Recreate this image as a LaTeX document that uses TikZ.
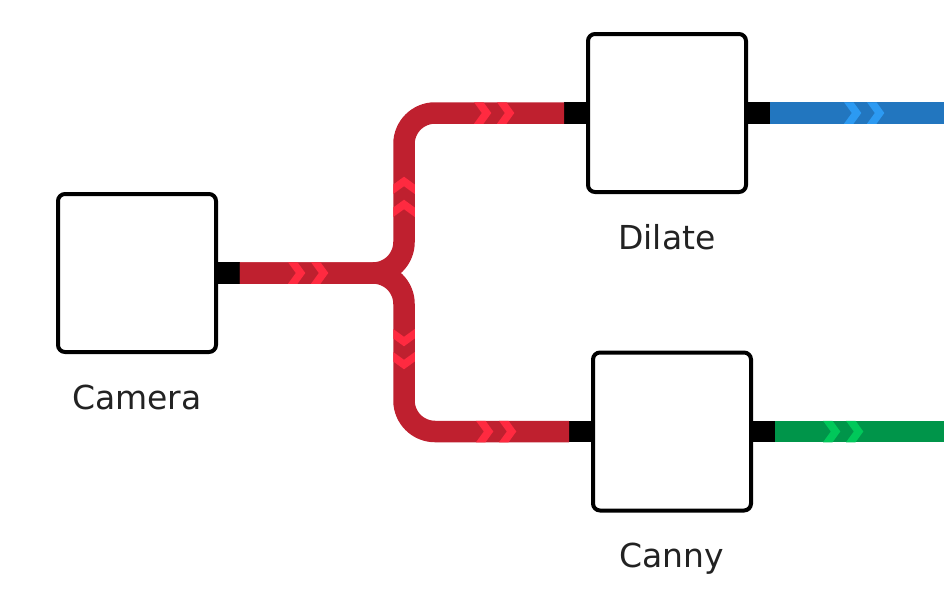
\documentclass[tikz,border=0pt]{standalone}
\usepackage{fontspec}
\setmainfont{DejaVu Sans}
\usetikzlibrary{positioning}

\definecolor{wirered}{HTML}{BF202F}
\definecolor{chevred}{HTML}{FF2A40}
\definecolor{wireblue}{HTML}{2276BF}
\definecolor{chevblue}{HTML}{2C9AF2}
\definecolor{wiregreen}{HTML}{00954A}
\definecolor{chevgreen}{HTML}{00C85A}
\definecolor{labelgray}{HTML}{222222}

\tikzset{
  block/.style={draw=black, fill=white, line width=4pt, rounded corners=7pt, minimum size=158pt, inner sep=0pt},
  port/.style={fill=black, minimum width=23pt, minimum height=21.5pt, inner sep=0pt},
  blocklabel/.style={anchor=base, text=labelgray, font=\fontsize{33}{40}\selectfont},
  wire/.style={line width=21.5pt},
  pics/chevpair/.style={code={
    \foreach \s in {0,23}
      \fill[#1] (\s,10.75) -- ++(9.5,0) -- ++(7.8,-10.75) -- ++(-7.8,-10.75) -- ++(-9.5,0) -- ++(7.8,10.75) -- cycle;
  }}
}

\begin{document}
\begin{tikzpicture}[x=1pt, y=-1pt]
    \useasboundingbox (0,0) rectangle (944,597);

    % Blocks
    \node[block] (camera) at (137,273) {};
    \node[block] (dilate) at (667,113) {};
    \node[block] (canny) at (672,431.5) {};

    % Block labels
    \node[blocklabel] (cameratext) at ([yshift=-55pt]camera.south) {Camera};
    \node[blocklabel] (dilatetext) at ([yshift=-55pt]dilate.south) {Dilate};
    \node[blocklabel] (cannytext) at ([yshift=-55pt]canny.south) {Canny};

    % Ports
    \node[port, right=-1.5pt of camera] (camout) {};
    \node[port, left=-1.5pt of dilate] (dilin) {};
    \node[port, right=-1.5pt of dilate] (dilout) {};
    \node[port, left=-1.5pt of canny] (canin) {};
    \node[port, right=-1.5pt of canny] (canout) {};

    % Wires
    \coordinate (split) at (404,273);
    \coordinate (blueend) at (944,113);
    \coordinate (greenend) at (944,431.5);
    \draw[wire, wirered, rounded corners=31pt] (camout.east) -- (split) |- (dilin.west);
    \draw[wire, wirered, rounded corners=31pt] (camout.east) -- (split) |- (canin.west);
    \draw[wire, wireblue] (dilout.east) -- (blueend);
    \draw[wire, wiregreen] (canout.east) -- (greenend);

    % Flow chevrons
    \pic at (288,273) {chevpair=chevred};
    \pic[rotate=90] at (404,217) {chevpair=chevred};
    \pic at (474,113) {chevpair=chevred};
    \pic[rotate=-90] at (404,329) {chevpair=chevred};
    \pic at (476,431.5) {chevpair=chevred};
    \pic at (844,113) {chevpair=chevblue};
    \pic at (823,431.5) {chevpair=chevgreen};

\end{tikzpicture}
\end{document}
